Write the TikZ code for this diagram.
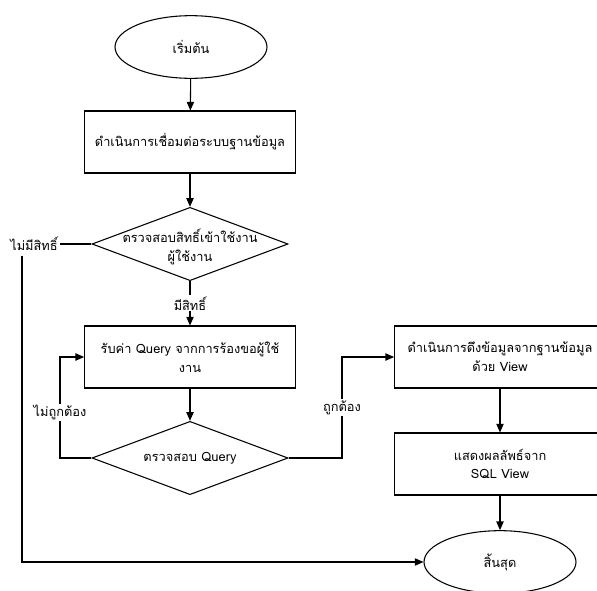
\documentclass[tikz,border=0pt]{standalone}
\usepackage{fontspec}
\setmainfont[Script=Thai]{Loma}
\usetikzlibrary{shapes.geometric,arrows.meta}
\begin{document}
\begin{tikzpicture}[x=0.75pt,y=-0.75pt, line width=0.8pt,
 >={Triangle[length=6.5pt,width=5.5pt]},
 every node/.style={font=\fontsize{9.6}{14}\selectfont},
 term/.style={ellipse,draw,minimum width=114pt,minimum height=47pt,inner sep=0pt},
 proc/.style={rectangle,draw,minimum width=158pt,minimum height=46.5pt,align=center,inner sep=2pt},
 dec/.style={diamond,draw,minimum width=147pt,minimum height=55pt,inner sep=0pt},
 lab/.style={fill=white,inner sep=1pt}]
\fill[white] (0,0) rectangle (597,590);
\clip (0,0) rectangle (597,590);
\node[term] (start) at (191,47) {เริ่มต้น};
\node[proc] (b1) at (190,142) {ดำเนินการเชื่อมต่อระบบฐานข้อมูล};
\node[dec] (d1) at (190,244) {};
\node[align=center] (t1) at (190,247) {ตรวจสอบสิทธิ์เข้าใช้งาน\\ผู้ใช้งาน};
\node[proc] (b2) at (190,357) {รับค่า Query จากการร้องขอผู้ใช้\\งาน};
\node[dec] (d2) at (190,458) {};
\node (t2) at (190,458) {ตรวจสอบ Query};
\node[proc] (b3) at (500,357) {ดำเนินการดึงข้อมูลจากฐานข้อมูล\\ด้วย View};
\node[proc] (b4) at (500,464) {แสดงผลลัพธ์จาก\\SQL View};
\node[term] (end) at (500,562) {สิ้นสุด};
\node[lab] (nolab) at (34,244) {ไม่มีสิทธิ์};
\coordinate (nr) at (22,256);
\draw[->] (start) -- (b1);
\draw[->] (b1) -- (d1);
\draw[->] (d1) -- node[lab] {มีสิทธิ์} (b2);
\draw[->] (b2) -- (d2);
\draw (d1.west) -- (nolab.east);
\draw[->] (nr) |- (end.west);
\draw[->] (d2.west) -- (60,458) -- node[lab,pos=0.45] {ไม่ถูกต้อง} (60,357) -- (b2.west);
\draw[->] (d2.east) -- (342,458) -- node[lab,pos=0.5] {ถูกต้อง} (342,357) -- (b3.west);
\draw[->] (b3) -- (b4);
\draw[->] (b4) -- (end);
\end{tikzpicture}
\end{document}
